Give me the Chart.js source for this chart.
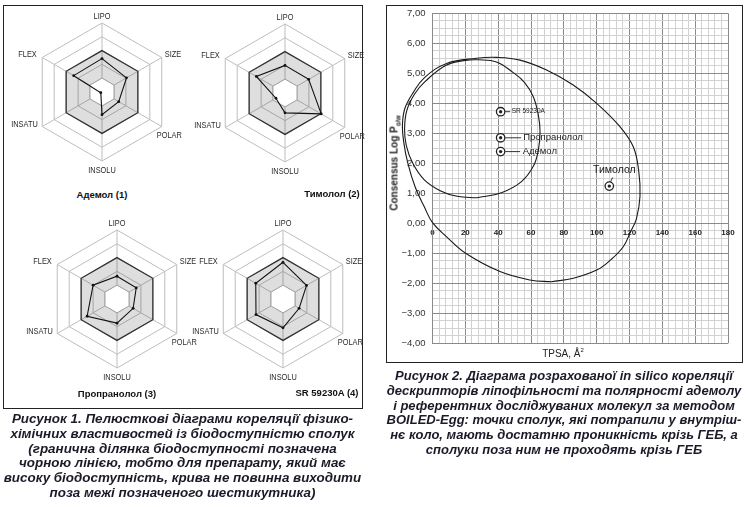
<!DOCTYPE html>
<html>
<head>
<meta charset="utf-8">
<script src="https://cdn.jsdelivr.net/npm/chart.js@4.4.1/dist/chart.umd.min.js"></script>
<style>
  body { margin: 0; background: #fff; width: 747px; height: 507px; overflow: hidden; position: relative;
         font-family: "Liberation Sans", Arial, sans-serif; }
  .frame { position: absolute; border: 1.5px solid #222; box-sizing: border-box; }
  .box { position: absolute; }
  .rtitle { position: absolute; font-weight: bold; font-size: 9.5px; color: #111; white-space: nowrap;
            transform: translate(-50%, -50%); }
  .cap { position: absolute; font: italic bold 13px "Liberation Sans", Arial, sans-serif; color: #1a1a28;
         text-align: center; line-height: 14.8px; white-space: nowrap; }
  .axt { position: absolute; white-space: nowrap; color: #222; transform: translate(-50%, -50%); }
</style>
</head>
<body>
<div class="frame" style="left:3px;top:5px;width:360px;height:404px"></div>
<div class="frame" style="left:386px;top:5px;width:357px;height:358px"></div>

<div class="box" style="left:2px;top:2px"><canvas id="radar1" width="200" height="180"></canvas></div>
<div class="box" style="left:185px;top:3px"><canvas id="radar2" width="200" height="180"></canvas></div>
<div class="box" style="left:17px;top:209px"><canvas id="radar3" width="200" height="180"></canvas></div>
<div class="box" style="left:183px;top:209px"><canvas id="radar4" width="200" height="180"></canvas></div>

<div class="rtitle" style="left:102px;top:194px">Адемол (1)</div>
<div class="rtitle" style="left:332px;top:193px">Тимолол (2)</div>
<div class="rtitle" style="left:117px;top:393px">Пропранолол (3)</div>
<div class="rtitle" style="left:327px;top:392px">SR 59230A (4)</div>

<div class="box" style="left:390px;top:0px"><canvas id="egg" width="350" height="360"></canvas></div>
<div class="axt" style="left:395px;top:163px;font-weight:bold;font-size:10px;transform:translate(-50%,-50%) rotate(-90deg)">Consensus Log P<sub style="font-size:6.5px">o/w</sub></div>
<div class="axt" style="left:563px;top:353px;font-size:10px">TPSA, Å<sup style="font-size:6px">2</sup></div>

<div class="cap" style="left:0;top:412px;width:365px;font-size:13.4px">
  <div>Рисунок 1. Пелюсткові діаграми кореляції фізико-</div>
  <div>хімічних властивостей із біодоступністю сполук</div>
  <div>(гранична ділянка біодоступності позначена</div>
  <div>чорною лінією, тобто для препарату, який має</div>
  <div>високу біодоступність, крива не повинна виходити</div>
  <div>поза межі позначеного шестикутника)</div>
</div>
<div class="cap" style="left:386px;top:369px;width:356px">
  <div>Рисунок 2. Діаграма розрахованої in silico кореляції</div>
  <div>дескрипторів ліпофільності та полярності адемолу</div>
  <div>і референтних досліджуваних молекул за методом</div>
  <div>BOILED-Egg: точки сполук, які потрапили у внутріш-</div>
  <div>нє коло, мають достатню проникність крізь ГЕБ, а</div>
  <div>сполуки поза ним не проходять крізь ГЕБ</div>
</div>

<script>
// radar data (0..5 scale, grey band between 1 and 3)
const radarAxes = ['LIPO', 'SIZE', 'POLAR', 'INSOLU', 'INSATU', 'FLEX'];
const ademolRadar = [2.42, 2.05, 1.4, 1.64, 0.1, 2.37];
const timololRadar = [2.0, 1.98, 3.03, 1.44, 0.76, 2.4];
const propranololRadar = [1.65, 1.61, 1.35, 1.75, 2.5, 2.0];
const srRadar = [2.66, 1.97, 1.35, 2.09, 2.26, 2.28];
const bandUpper = [3, 3, 3, 3, 3, 3];
const bandLower = [1, 1, 1, 1, 1, 1];

// BOILED-Egg data
const compoundNames = ['SR 59230A', 'Пропранолол', 'Адемол', 'Тимолол'];
const compoundTpsa = [41.5, 41.5, 41.5, 107.7];
const compoundLogP = [3.72, 2.85, 2.39, 1.24];

// outline of the white (HIA) ellipse
const hiaTpsa = [72.6, 85.8, 100, 108.5, 116.2, 120.5, 124.2, 126.4, 125.6, 122.3, 114.2, 100, 85.7, 69.5, 53.3, 39.1, 26.9, 8.6, -5, -11.5, -16.7, -18.3, -17.5, -15, -10.5, -5, 0, 8.6, 20.2, 41.1, 59.4, 72.6];
const hiaLogP = [-1.95, -1.83, -1.56, -1.22, -0.78, -0.3, 0.15, 0.9, 1.75, 2.55, 3.22, 4.0, 4.61, 5.11, 5.44, 5.53, 5.5, 5.33, 4.85, 4.38, 3.85, 3.3, 2.7, 2.0, 1.2, 0.55, 0.02, -0.45, -1.0, -1.61, -1.89, -1.95];
// outline of the yolk (BBB) ellipse
const bbbTpsa = [27, 42, 54, 61.4, 64.5, 65.5, 64.5, 61.4, 56, 49, 39, 28, 20, 8, -4.6, -11, -15.7, -17, -16, -12, -5, 5, 15, 27];
const bbbLogP = [0.85, 1.02, 1.38, 1.9, 2.45, 3.05, 3.6, 4.22, 4.7, 5.03, 5.38, 5.45, 5.43, 5.26, 4.72, 4.3, 3.75, 3.15, 2.6, 2.0, 1.45, 1.08, 0.9, 0.85];

const xTickValues = [0, 20, 40, 60, 80, 100, 120, 140, 160, 180];
const xTickLabels = ['0', '20', '40', '60', '80', '100', '120', '140', '160', '180'];
const yTickValues = [7, 6, 5, 4, 3, 2, 1, 0, -1, -2, -3, -4];
const yTickLabels = ['7,00', '6,00', '5,00', '4,00', '3,00', '2,00', '1,00', '0,00', '−1,00', '−2,00', '−3,00', '−4,00'];

// where each radar axis name sits relative to the axis end: align, dx, dy
const radarLabelPlace = {
  LIPO: ['center', 0, -6.5],
  SIZE: ['left', 3, -2.5],
  POLAR: ['left', -5, 9],
  INSOLU: ['center', 0, 9.5],
  INSATU: ['right', -4.5, -1.5],
  FLEX: ['right', -5.5, -2.5]
};

const radarLabels = {
  id: 'radarLabels',
  afterDraw(chart) {
    const r = chart.scales.r;
    const ctx = chart.ctx;
    ctx.save();
    ctx.font = '9px "Liberation Sans", Arial, sans-serif';
    ctx.fillStyle = '#2a2a2a';
    ctx.textBaseline = 'middle';
    radarAxes.forEach((name, i) => {
      const p = r.getPointPositionForValue(i, r.max);
      const place = radarLabelPlace[name];
      ctx.save();
      ctx.translate(p.x + place[1], p.y + place[2]);
      ctx.scale(0.82, 1);
      ctx.textAlign = place[0];
      ctx.fillText(name, 0, 0);
      ctx.restore();
    });
    ctx.restore();
  }
};

function makeRadar(id, values) {
  new Chart(document.getElementById(id), {
    type: 'radar',
    data: {
      labels: radarAxes,
      datasets: [
        { data: values, borderColor: '#111', borderWidth: 1.1, fill: false,
          pointRadius: 1.4, pointBackgroundColor: '#111', pointBorderWidth: 0 },
        { data: bandUpper, borderColor: '#333', borderWidth: 1.3, fill: { value: 1 },
          backgroundColor: 'rgba(0,0,0,0.13)', pointRadius: 0 },
        { data: bandLower, borderColor: '#b0b0b0', borderWidth: 1, fill: 'origin',
          backgroundColor: '#fff', pointRadius: 0 }
      ]
    },
    options: {
      responsive: false,
      animation: false,
      layout: { padding: { left: 31, right: 31, top: 21, bottom: 21 } },
      plugins: { legend: { display: false }, tooltip: { enabled: false } },
      elements: { line: { tension: 0 } },
      scales: {
        r: {
          min: 0, max: 5,
          ticks: { display: false, stepSize: 1 },
          grid: { color: '#bdbdbd', lineWidth: 1 },
          angleLines: { color: '#bdbdbd', lineWidth: 1 },
          pointLabels: { display: false }
        }
      }
    },
    plugins: [radarLabels]
  });
}

makeRadar('radar1', ademolRadar);
makeRadar('radar2', timololRadar);
makeRadar('radar3', propranololRadar);
makeRadar('radar4', srRadar);

function pts(xs, ys) {
  return xs.map((x, i) => ({ x: x, y: ys[i] }));
}

// label offsets in px from each marker
const labelLayout = [
  { dx: 11, dy: 0, size: 6.5, align: 'left', line: [4.5, 0, 9.5, 0] },
  { dx: 22.5, dy: 0, size: 9.5, align: 'left', line: [4.5, 0, 20.5, 0] },
  { dx: 22, dy: 0, size: 9.5, align: 'left', line: [4.5, 0, 19.5, 0] },
  { dx: 5, dy: -15.5, size: 10.5, align: 'center', line: [3.4, -8.7, 1.2, -4.2] }
];

const compoundLabels = {
  id: 'compoundLabels',
  afterDatasetsDraw(chart) {
    const ctx = chart.ctx;
    const marks = chart.getDatasetMeta(1).data;
    ctx.save();
    ctx.strokeStyle = '#333';
    ctx.lineWidth = 1;
    ctx.fillStyle = '#222';
    ctx.textBaseline = 'middle';
    compoundNames.forEach((name, i) => {
      const m = marks[i];
      const l = labelLayout[i];
      ctx.beginPath();
      ctx.moveTo(m.x + l.line[0], m.y + l.line[1]);
      ctx.lineTo(m.x + l.line[2], m.y + l.line[3]);
      ctx.stroke();
      ctx.font = l.size + 'px "Liberation Sans", Arial, sans-serif';
      ctx.textAlign = l.align;
      ctx.fillText(name, m.x + l.dx, m.y + l.dy);
    });
    ctx.restore();
  }
};

const majorGrid = '#8a8a8a';
const minorGrid = '#d2d2d2';
const curveStyle = { showLine: true, pointRadius: 0, borderColor: '#1a1a1a', borderWidth: 1.1,
                     tension: 0.4, fill: false, clip: false };

new Chart(document.getElementById('egg'), {
  type: 'scatter',
  data: {
    datasets: [
      { data: pts(compoundTpsa, compoundLogP), pointRadius: 1.7, pointBackgroundColor: '#222', pointBorderWidth: 0 },
      { data: pts(compoundTpsa, compoundLogP), pointRadius: 4.2, pointBackgroundColor: '#fff',
        pointBorderColor: '#222', pointBorderWidth: 1.3 },
      Object.assign({ data: pts(bbbTpsa, bbbLogP) }, curveStyle),
      Object.assign({ data: pts(hiaTpsa, hiaLogP) }, curveStyle)
    ]
  },
  options: {
    responsive: false,
    animation: false,
    layout: { padding: { left: 0, right: 12, top: 13.3, bottom: 16.7 } },
    elements: { line: { capBezierPoints: false } },
    plugins: { legend: { display: false }, tooltip: { enabled: false } },
    scales: {
      x: {
        type: 'linear',
        position: { y: 0 },
        min: 0, max: 180,
        ticks: {
          stepSize: 4, autoSkip: false, maxRotation: 0, padding: 5,
          color: '#222', font: { size: 8, weight: 'bold' },
          callback: (v) => { const k = xTickValues.indexOf(v); return k < 0 ? '' : xTickLabels[k]; }
        },
        grid: { drawTicks: false, color: (c) => (c.tick && c.tick.value % 20 === 0 ? majorGrid : minorGrid) },
        border: { color: majorGrid }
      },
      y: {
        min: -4, max: 7,
        ticks: {
          stepSize: 0.25, autoSkip: false, padding: 7,
          color: '#333', font: { size: 9.5 },
          callback: (v) => { const k = yTickValues.indexOf(v); return k < 0 ? '' : yTickLabels[k]; }
        },
        grid: { drawTicks: false, color: (c) => (c.tick && c.tick.value % 1 === 0 ? majorGrid : minorGrid) },
        border: { color: majorGrid },
        afterFit: (s) => { s.width = 42.5; }
      }
    }
  },
  plugins: [compoundLabels]
});
</script>
</body>
</html>
